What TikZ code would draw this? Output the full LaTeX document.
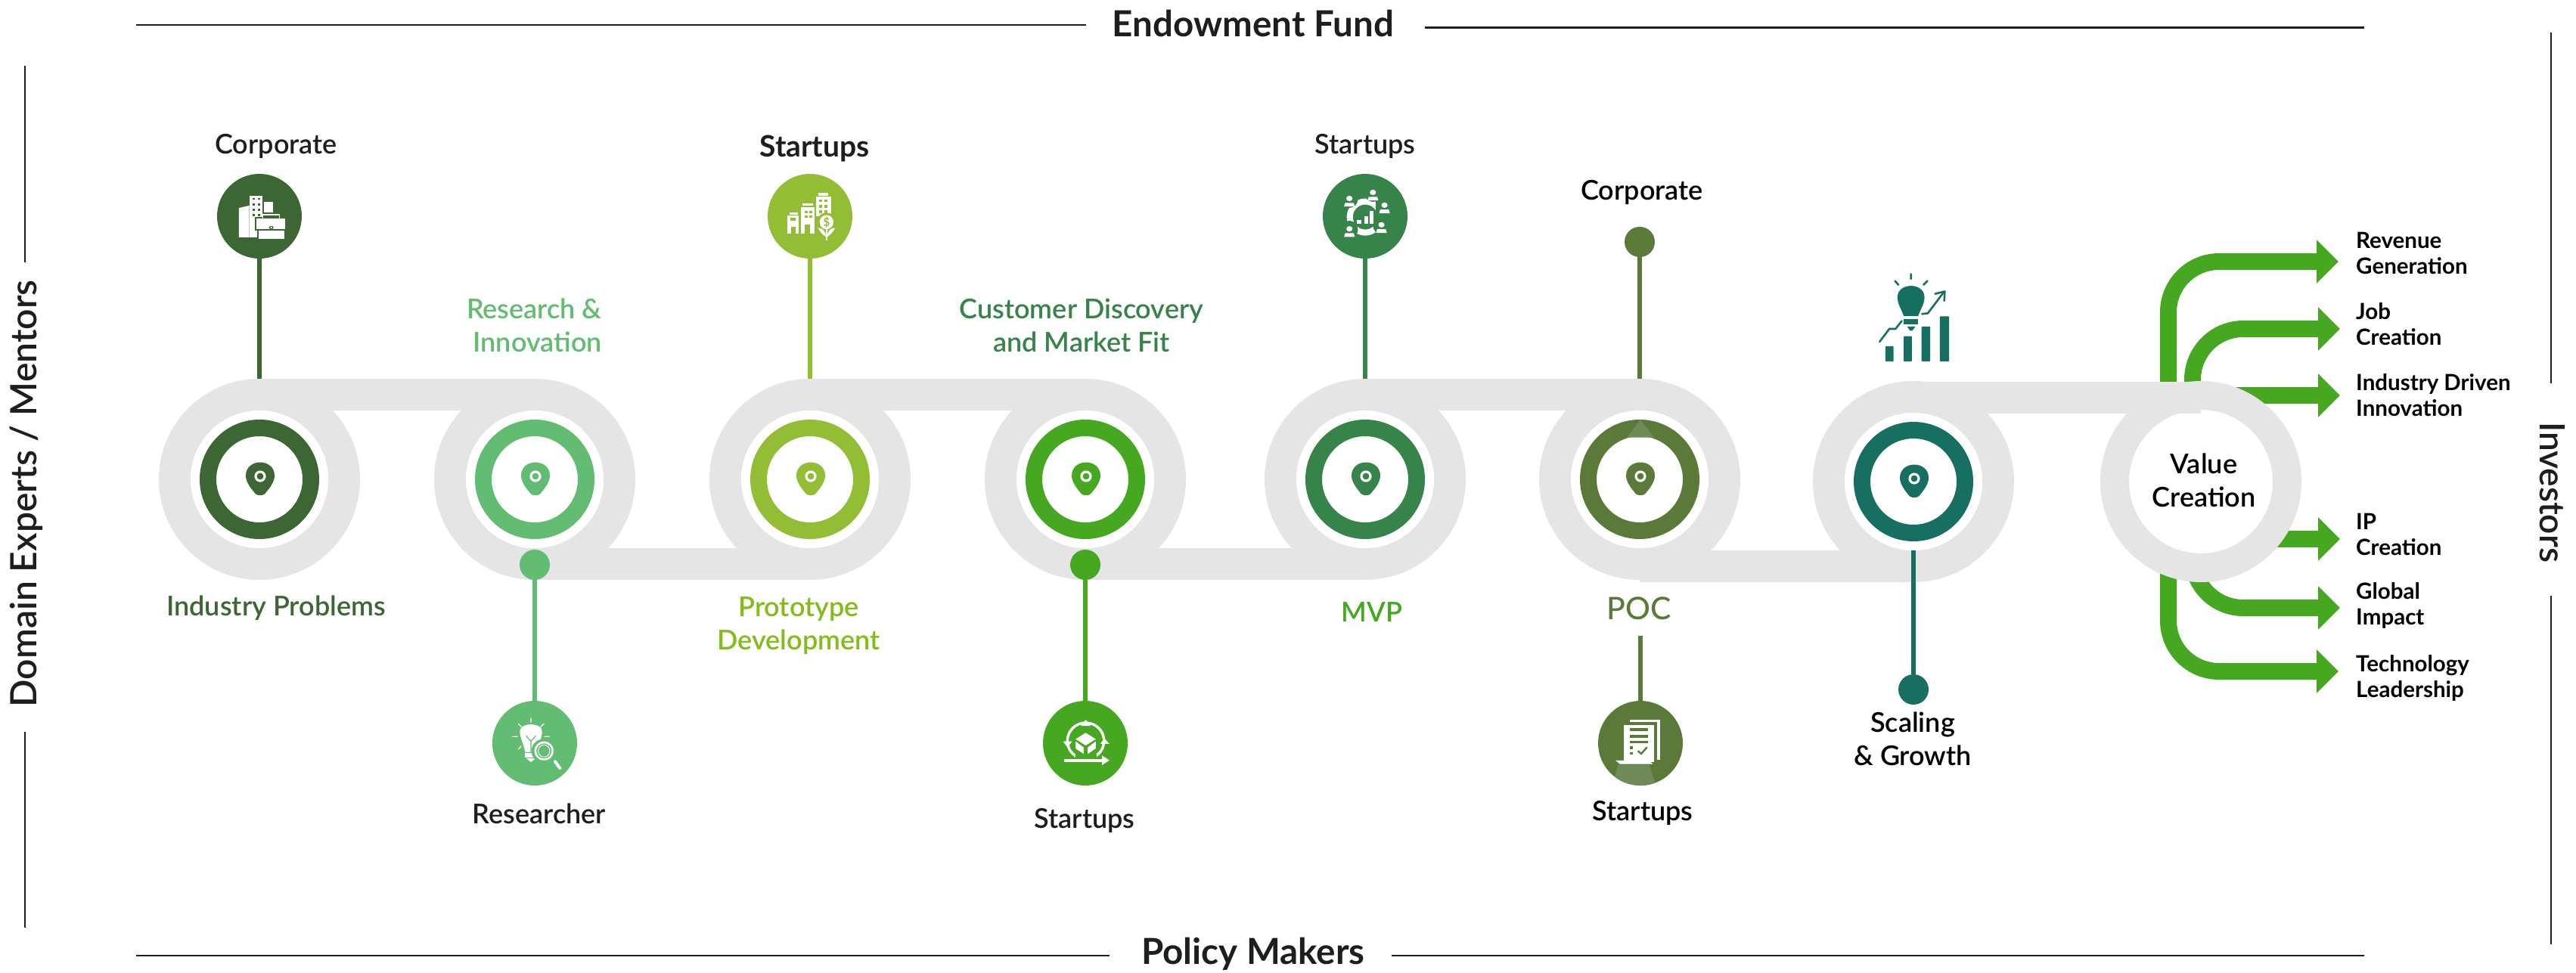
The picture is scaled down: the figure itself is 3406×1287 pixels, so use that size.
\documentclass[tikz,border=0pt]{standalone}
\usepackage{fontspec}
\usetikzlibrary{arrows.meta,calc}
\setmainfont{Lato}
\newfontfamily\medf{Lato Medium}
\newfontfamily\semif{Lato Semibold}
\definecolor{colA}{HTML}{3C6633}
\definecolor{colB}{HTML}{62BC71}
\definecolor{colC}{HTML}{93BD35}
\definecolor{colD}{HTML}{46A820}
\definecolor{colE}{HTML}{37844B}
\definecolor{colF}{HTML}{5B7A3A}
\definecolor{colG}{HTML}{176F61}
\definecolor{colT}{HTML}{84BD1A}
\definecolor{trackgray}{HTML}{E5E5E5}
\definecolor{ink}{HTML}{1E1E1E}
\definecolor{fade}{HTML}{6F8A55}
\tikzset{
  trackring/.style={circle,draw=trackgray,line width=42pt,minimum size=224pt,inner sep=0pt},
  whitedisc/.style={circle,fill=white,minimum size=182pt,inner sep=0pt,outer sep=0pt},
  ringnode/.style={circle,draw=#1,line width=22pt,fill=white,minimum size=136pt,inner sep=0pt},
  iconnode/.style={circle,fill=#1,minimum size=112pt,inner sep=0pt,outer sep=0pt},
  dotnode/.style={circle,fill=#1,minimum size=40pt,inner sep=0pt,outer sep=0pt},
  stem/.style={draw=#1,line width=6pt},
  trackbar/.style={draw=trackgray,line width=42pt},
  greenarrow/.style={draw=colD,line width=22pt,rounded corners=67pt,-{Triangle[width=56pt,length=29pt]}},
  rulefine/.style={draw=ink,line width=2.4pt},
  lab/.style={font=\semif\fontsize{36}{44}\selectfont,text=#1,align=center,inner sep=0pt},
  lab/.default=ink,
  toplab/.style={font=\bfseries\fontsize{39}{44}\selectfont,text=ink,align=center,inner sep=0pt},
  sidelab/.style={font=\bfseries\fontsize{29.5}{34}\selectfont,text=black,align=left,anchor=west,inner sep=0pt},
  titlelab/.style={font=\bfseries\fontsize{47.5}{50}\selectfont,text=ink,inner sep=0pt},
  zA/.style={shift={(150,130)},x=0.5102pt,y=-0.4464pt},
  zC/.style={shift={(950,130)},x=0.5102pt,y=-0.4464pt},
  zD/.style={shift={(1750,200)},x=0.5102pt,y=-0.4464pt},
  zE/.style={shift={(600,880)},x=0.6378pt,y=-0.3333pt},
  zF/.style={shift={(2000,880)},x=0.4464pt,y=-0.3333pt},
  zG/.style={shift={(2350,250)},x=0.6378pt,y=-0.4591pt},
}
\newcommand{\pinmark}[2]{\begin{scope}[shift={(#1)},xshift=1pt]
  \fill[#2] (0,21) .. controls (-4,21) and (-6,20) .. (-8,17) .. controls (-13,11) and (-19,3) .. (-19,-5) .. controls (-19,-16) and (-10,-22.5) .. (0,-22.5) .. controls (10,-22.5) and (19,-16) .. (19,-5) .. controls (19,3) and (13,11) .. (8,17) .. controls (6,20) and (4,21) .. (0,21) -- cycle;
  \fill[white] (0,-4) circle (7.6);
  \fill[#2] (0,-4) circle (4.4);
\end{scope}}
\newcommand{\person}[3]{%
  \fill[#3] (#1,#2-8) ellipse (22 and 26);
  \fill[white] (#1,#2-10) ellipse (8 and 8);
  \fill[white] (#1-14,#2+14) -- (#1-11,#2+3) -- (#1+11,#2+3) -- (#1+14,#2+14) -- cycle;}
\begin{document}
\begin{tikzpicture}[x=1pt,y=-1pt]
\useasboundingbox (0,0) rectangle (3406,1287);
\fill[white] (0,0) rectangle (3406,1287);

% frame rules
\coordinate (ta) at (180,33); \coordinate (tb) at (1436,33);
\coordinate (tc) at (1884,36.5); \coordinate (td) at (3126,36.5);
\coordinate (ba) at (180,1264); \coordinate (bb) at (1467,1264);
\coordinate (bc) at (1840,1264); \coordinate (bd) at (3126,1264);
\coordinate (la) at (33,87); \coordinate (lb) at (33,347);
\coordinate (lc) at (33,968); \coordinate (ld) at (33,1227);
\coordinate (ra) at (3373,43); \coordinate (rb) at (3373,507);
\coordinate (rc) at (3373,788); \coordinate (rd) at (3373,1249);
\draw[rulefine] (ta) -- (tb); \draw[rulefine] (tc) -- (td);
\draw[rulefine] (ba) -- (bb); \draw[rulefine] (bc) -- (bd);
\draw[rulefine] (la) -- (lb); \draw[rulefine] (lc) -- (ld);
\draw[rulefine] (ra) -- (rb); \draw[rulefine] (rc) -- (rd);
\node[titlelab] (endow) at (1657,31) {Endowment Fund};
\node[titlelab] (policy) at (1657,1262) {Policy Makers};
\node[titlelab,rotate=90,font=\semif\fontsize{48}{50}\selectfont] (domain) at (35,653) {Domain Experts / Mentors};
\node[titlelab,rotate=-90,font=\semif\fontsize{46}{50}\selectfont] (invest) at (3375,651) {Investors};

% green output arrows (under the track)
\coordinate (a1s) at (2867,520); \coordinate (a1e) at (3092,346);
\coordinate (a2s) at (2899,520); \coordinate (a2e) at (3094,435);
\coordinate (a3s) at (2950,523); \coordinate (a3e) at (3094,523);
\coordinate (a4s) at (2990,713); \coordinate (a4e) at (3094,713);
\coordinate (a5s) at (2899,740); \coordinate (a5e) at (3094,804);
\coordinate (a6s) at (2867,750); \coordinate (a6e) at (3092,888);
\draw[greenarrow] (a1s) |- (a1e);
\draw[greenarrow] (a2s) |- (a2e);
\draw[greenarrow] (a3s) -- (a3e);
\draw[greenarrow] (a4s) -- (a4e);
\draw[greenarrow] (a5s) |- (a5e);
\draw[greenarrow] (a6s) |- (a6e);

% track
\node[trackring] (t1) at (343,634) {};
\node[trackring] (t2) at (707,634) {};
\node[trackring] (t3) at (1071,634) {};
\node[trackring] (t4) at (1435,634) {};
\node[trackring] (t5) at (1805,634) {};
\node[trackring] (t6) at (2168,634) {};
\node[trackring] (t7) at (2530,637) {};
\node[circle,draw=trackgray,fill=white,line width=38pt,minimum size=228pt,inner sep=0pt] (t8) at (2910,637) {};
\draw[trackbar] ([yshift=-21pt]t1.north) -- ([yshift=-21pt]t2.north);
\draw[trackbar] ([yshift=21pt]t2.south) -- ([yshift=21pt]t3.south);
\draw[trackbar] ([yshift=-21pt]t3.north) -- ([yshift=-21pt]t4.north);
\draw[trackbar] ([yshift=21pt]t4.south) -- ([yshift=21pt]t5.south);
\draw[trackbar] ([yshift=-21pt]t5.north) -- ([yshift=-21pt]t6.north);
\coordinate (b67) at ([yshift=21pt]t7.south);
\draw[trackbar] (t6.south |- b67) -- (b67);
\draw[trackbar] ([yshift=-22pt]t7.north) -- ([yshift=-22pt]t8.north -| t8.center);

% white discs and rings
\node[whitedisc] (w1) at (t1) {};
\node[whitedisc] (w2) at (t2) {};
\node[whitedisc] (w3) at (t3) {};
\node[whitedisc] (w4) at (t4) {};
\node[whitedisc] (w5) at (t5) {};
\node[whitedisc] (w6) at (t6) {};
\node[whitedisc] (w7) at (t7) {};
\node[ringnode=colA] (r1) at (t1) {};
\node[ringnode=colB] (r2) at (t2) {};
\node[ringnode=colC] (r3) at (t3) {};
\node[ringnode=colD] (r4) at (t4) {};
\node[ringnode=colE] (r5) at (t5) {};
\node[ringnode=colF] (r6) at (t6) {};
\node[ringnode=colG] (r7) at (t7) {};
\fill[fade] (2169,555) -- (2187,578.5) -- (2151,578.5) -- cycle;
\pinmark{r1}{colA}\pinmark{r2}{colB}\pinmark{r3}{colC}\pinmark{r4}{colD}
\pinmark{r5}{colE}\pinmark{r6}{colF}\pinmark{r7}{colG}

% icon discs and dots
\node[iconnode=colA] (i1) at (343,286) {};
\node[iconnode=colC] (i3) at (1071,286) {};
\node[iconnode=colE] (i5) at (1805,286) {};
\node[dotnode=colF] (d6) at (2168,320) {};
\node[dotnode=colB] (d2) at (707,747) {};
\node[dotnode=colD] (d4) at (1435,747) {};
\node[dotnode=colG] (d7) at (2530,912) {};
\node[iconnode=colB] (i2) at (707,983) {};
\node[iconnode=colD] (i4) at (1435,983) {};
\node[iconnode=colF] (i6) at (2169,983) {};

% stems
\draw[stem=colA] (i1) -- (t1.north);
\draw[stem=colC] (i3) -- (t3.north);
\draw[stem=colE] (i5) -- (t5.north);
\draw[stem=colF] (d6) -- (t6.north);
\draw[stem=colB] (d2) -- (i2);
\draw[stem=colD] (d4) -- (i4);
\draw[stem=colG] (w7.south) -- (d7);
\coordinate (s6) at (2169,841);
\draw[stem=colF] (s6) -- (i6);

% icon 1: buildings and briefcase
\begin{scope}[zA]
  \fill[white] (325,325) -- (352,318) -- (352,412) -- (325,412) -- cycle;
  \fill[white] (353,288) rectangle (387,412);
  \fill[white] (390,306) rectangle (414,338);
  \foreach \yy in {298,314,330,346} \foreach \xx in {363,377}
    \fill[colA] (\xx-3,\yy-3) rectangle (\xx+3,\yy+3);
  \fill[colA] (366,352) rectangle (449,420);
  \fill[white] (370,357) rectangle (445,388);
  \fill[white] (376,392) rectangle (442,416);
  \draw[white,line width=1.5pt] (387,357) -- (387,345) -- (430,345) -- (430,357);
  \fill[colA] (409,383) ellipse (6 and 5);
  \fill[white] (409,383) ellipse (3 and 2.5);
  \fill[white] (363,392) rectangle (372,412);
\end{scope}

% icon 3: city and dollar plant
\begin{scope}[zC]
  \fill[white] (178,347) rectangle (207,402);
  \fill[white] (184,338) rectangle (205,344);
  \fill[colC] (186,355) rectangle (200,362);
  \fill[colC] (189,380) rectangle (200,402);
  \fill[white] (213,322) rectangle (248,402);
  \fill[white] (218,311) rectangle (245,318);
  \foreach \xx/\yy in {223/333,236/333,223/347,236/347}
    \fill[colC] (\xx,\yy) rectangle +(8,7);
  \fill[colC] (223,375) rectangle (238,402);
  \fill[white] (252,292) rectangle (292,350);
  \fill[white] (258,281) rectangle (285,288);
  \foreach \xx/\yy in {261/300,275/300,261/316,275/316,261/332,275/332}
    \fill[colC] (\xx,\yy) rectangle +(8,8);
  \fill[colC] (280,367) ellipse (25 and 28);
  \fill[white] (280,367) ellipse (18 and 21);
  \node[text=colC,font=\bfseries\fontsize{15}{15}\selectfont,inner sep=0pt] (dollar) at (280,367) {\$};
  \draw[white,line width=1.6pt] (280,388) -- (280,422);
  \fill[white] (278,410) .. controls (270,405) and (262,395) .. (258,384) .. controls (268,384) and (278,392) .. (278,410) -- cycle;
  \fill[white] (282,410) .. controls (290,405) and (298,395) .. (302,384) .. controls (292,384) and (282,392) .. (282,410) -- cycle;
\end{scope}

% icon 5: people around a chart
\begin{scope}[zD]
  \draw[white,line width=8pt] (108,195) ellipse (40 and 46);
  \fill[colE] (135,150) -- (165,150) -- (165,215) -- (135,215) -- cycle;
  \foreach \xx/\yy/\hh in {87/214/11,105/214/22,120/214/36}
    \fill[white] (\xx,\yy) rectangle +(10,-\hh);
  \person{67}{150}{colE}
  \person{128}{132}{colE}
  \person{158}{170}{colE}
  \person{150}{228}{colE}
  \person{67}{240}{colE}
\end{scope}

% icon 2: bulb and magnifier
\begin{scope}[zE]
  \fill[white] (137,262) .. controls (137,225) and (183,225) .. (183,262) .. controls (183,290) and (175,310) .. (172,345) -- (148,345) .. controls (145,310) and (137,290) .. (137,262) -- cycle;
  \fill[white] (148,349) rectangle (172,365);
  \fill[white] (150,369) -- (170,369) -- (160,384) -- cycle;
  \draw[colB,line width=1.2pt] (150,280) -- (160,302) -- (170,280) (160,302) -- (160,345);
  \draw[white,line width=1.2pt,line cap=round] (160,210) -- (160,226) (134,232) -- (140,244) (187,232) -- (180,244) (122,283) -- (132,283) (188,283) -- (198,283) (134,333) -- (140,320);
  \fill[colB] (187,340) ellipse (26 and 48);
  \draw[white,line width=2.6pt] (187,340) ellipse (18 and 34);
  \draw[white,line width=0.9pt] (187,340) ellipse (12 and 24);
  \draw[white,line width=4pt,line cap=round] (210,382) -- (220,408);
\end{scope}

% icon 4: cycle and cube
\begin{scope}[zE]
  \draw[white,line width=3.4pt] (1310,300) ellipse (38 and 72);
  \fill[white] (1310,216) -- (1320,240) -- (1300,240) -- cycle;
  \fill[white] (1349,290) -- (1359,312) -- (1340,312) -- cycle;
  \fill[white] (1272,325) -- (1263,302) -- (1282,302) -- cycle;
  \fill[colD] (1288,355) rectangle (1332,372);
  \draw[white,line width=4pt] (1265,377) -- (1350,377);
  \fill[white] (1344,358) -- (1359,377) -- (1344,396) -- cycle;
  \fill[white] (1310,268) -- (1331,293) -- (1310,318) -- (1289,293) -- cycle;
  \fill[white] (1289,302) -- (1306,326) -- (1306,352) -- (1289,330) -- cycle;
  \fill[white] (1331,302) -- (1314,326) -- (1314,352) -- (1331,330) -- cycle;
\end{scope}

% icon 6: document
\begin{scope}
  \clip (i6) circle (56);
  \begin{scope}[zF]
    \fill[fade] (312,395) -- (405,395) -- (425,480) -- (295,480) -- cycle;
    \fill[white] (348,216) rectangle (437,375);
    \fill[colF] (330,226) rectangle (428,380);
    \fill[white] (330,237) rectangle (418,385);
    \fill[colF] (347,250) rectangle (401,262);
    \fill[colF] (347,275) rectangle (401,287);
    \fill[colF] (347,299) rectangle (401,310);
    \fill[colF] (348,322) rectangle (356,332);
    \fill[colF] (348,345) rectangle (356,355);
    \draw[colF,line width=2.4pt] (371,340) -- (381,351) -- (398,325);
    \fill[white] (305,378) -- (405,378) -- (415,392) -- (318,392) -- cycle;
  \end{scope}
\end{scope}

% icon 7: bulb, growth, bars
\begin{scope}[zG]
  \foreach \xa/\xb/\yy in {224/241/453,262/279/424,299/317/396,337/356/367}
    \fill[colG,rounded corners=1pt] (\xa,\yy) rectangle (\xb,497);
  \fill[colG] (249,312) .. controls (249,268) and (305,268) .. (305,312) .. controls (305,332) and (297,345) .. (292,366) -- (262,366) .. controls (257,345) and (249,332) .. (249,312) -- cycle;
  \fill[colG] (262,374) rectangle (292,390);
  \fill[colG] (269,396) -- (286,396) -- (280,408) -- (275,408) -- cycle;
  \draw[colG,line width=2.6pt,line cap=round] (277,245) -- (277,259) (244,265) -- (251,276) (311,265) -- (303,276);
  \draw[colG,line width=2.6pt,line cap=round,line join=round] (212,440) -- (232,403) -- (245,403) -- (258,380);
  \draw[colG,line width=2.6pt,line cap=round,line join=round] (300,360) -- (312,358) -- (345,297);
  \draw[colG,line width=2.6pt,line cap=round,line join=round] (327,302) -- (347,295) -- (346,322);
\end{scope}

% labels
\node[lab] (lcorp1) at (365,193) {Corporate};
\node[lab=colB,align=right,anchor=east] (lres) at (796,430) {Research \&\\Innovation};
\node[lab=colA] (lind) at (365,804) {Industry Problems};
\node[toplab] (lst3) at (1077,197) {Startups};
\node[lab=colE] (lcust) at (1430,430) {Customer Discovery\\and Market Fit};
\node[lab=colT] (lproto) at (1056,828) {Prototype\\Development};
\node[lab] (lst5) at (1805,193) {Startups};
\node[lab=black] (lcorp6) at (2171,254) {Corporate};
\node[lab=colD] (lmvp) at (1814,810) {MVP};
\node[lab=colF,font=\medf\fontsize{41}{44}\selectfont] (lpoc) at (2167,805) {POC};
\node[lab] (lresr) at (713,1076) {Researcher};
\node[lab] (lst4) at (1434,1085) {Startups};
\node[lab=black] (lst6) at (2172,1075) {Startups};
\node[lab=black] (lscale) at (2529,977) {Scaling\\\& Growth};
\node[lab=black] (lvalue) at (2914,635) {Value\\Creation};

\node[sidelab] (o1) at (3115,335) {Revenue\\Generation};
\node[sidelab] (o2) at (3115,429) {Job\\Creation};
\node[sidelab] (o3) at (3115,523) {Industry Driven\\Innovation};
\node[sidelab] (o4) at (3115,707) {IP\\Creation};
\node[sidelab] (o5) at (3115,801) {Global\\Impact};
\node[sidelab] (o6) at (3115,897) {Technology\\Leadership};
\end{tikzpicture}
\end{document}
